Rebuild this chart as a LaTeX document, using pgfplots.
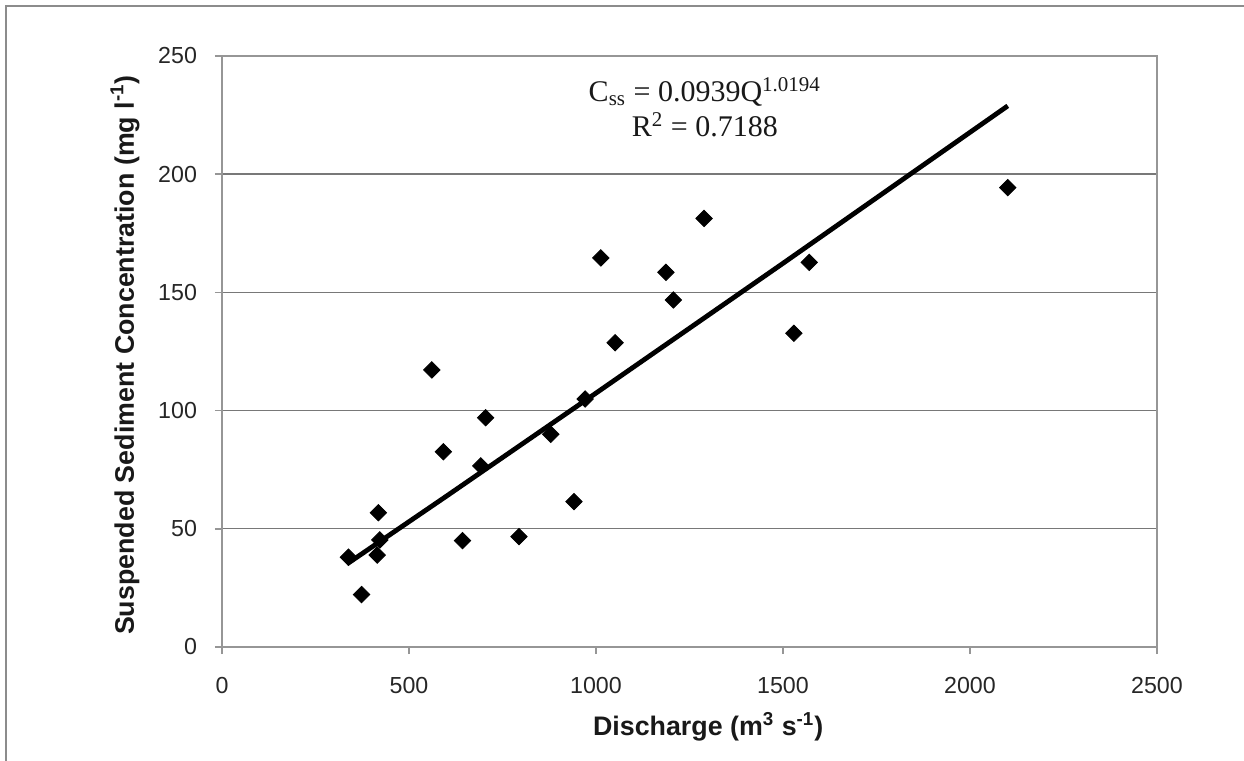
\documentclass[border=0pt]{standalone}
\usepackage{pgfplots}
\pgfplotsset{compat=1.18}
\usepackage{fontspec}
\setmainfont{Liberation Sans}
\newfontfamily\timesfont{Liberation Serif}

\definecolor{framegray}{RGB}{140,140,140}
\definecolor{axisgray}{RGB}{150,150,150}
\definecolor{gridgray}{RGB}{120,120,120}

\begin{document}
\begin{tikzpicture}[x=1pt,y=1pt]
% page is 1244 x 761 px at 0.5 pt per px
\useasboundingbox (0,0) rectangle (622,380.5);
\draw[framegray, line width=1pt] (3,0) -- (3,377.5) -- (622,377.5);

\begin{axis}[
  at={(111pt,57pt)}, anchor=south west,
  scale only axis, width=467.5pt, height=295.5pt,
  xmin=0, xmax=2500, ymin=0, ymax=250,
  xtick={0,500,1000,1500,2000,2500},
  ytick={0,50,100,150,200,250},
  xtick pos=left, ytick pos=left,
  tick align=outside, major tick length=3.5pt,
  tick style={axisgray, line width=0.8pt},
  axis line style={axisgray, line width=0.8pt},
  ymajorgrids, grid style={gridgray, line width=0.7pt},
  /pgf/number format/assume math mode=true,
  /pgf/number format/set thousands separator={},
  ticklabel style={font=\fontsize{11.6}{13}\selectfont, text=black!85},
  xticklabel style={yshift=-8pt},
  yticklabel style={xshift=-5.5pt},
  label style={font=\fontsize{13.4}{15}\selectfont\bfseries, text=black!90},
  xlabel={Discharge (m\textsuperscript{3} s\textsuperscript{-1})},
  xlabel style={at={(axis description cs:0.52,0)}, anchor=center, yshift=-40pt},
  ylabel={Suspended Sediment Concentration (mg l\textsuperscript{-1})},
  ylabel style={at={(axis description cs:-0.1037,0.494)}, anchor=center},
  clip=false,
]

\addplot[only marks, mark=square*, mark size=2.9pt,
  mark options={rotate=45, fill=black, draw=black}] coordinates {
(338,38.0)
(373,22.2)
(418,56.8)
(422,45.3)
(415,38.9)
(561,117.2)
(592,82.6)
(705,97.0)
(692,76.6)
(643,45.0)
(794,46.7)
(879,90.0)
(971,104.9)
(941,61.5)
(1051,128.7)
(1013,164.6)
(1187,158.5)
(1207,146.8)
(1289,181.3)
(1529,132.7)
(1570,162.7)
(2101,194.3)
};

% power-law trend line Css = 0.0939 Q^1.0194, evaluated at a few discharges
\addplot[black, line width=2.4pt, no marks] coordinates {
(334,35.1)
(600,63.8)
(1000,107.4)
(1500,162.3)
(2101,228.9)
};

\node[align=center, font=\timesfont\fontsize{15}{17.5}\selectfont, text=black!90]
  at (axis cs:1291,228.4)
  {C\textsubscript{ss} = 0.0939Q\textsuperscript{1.0194}\\R\textsuperscript{2} = 0.7188};

\end{axis}
\end{tikzpicture}
\end{document}
